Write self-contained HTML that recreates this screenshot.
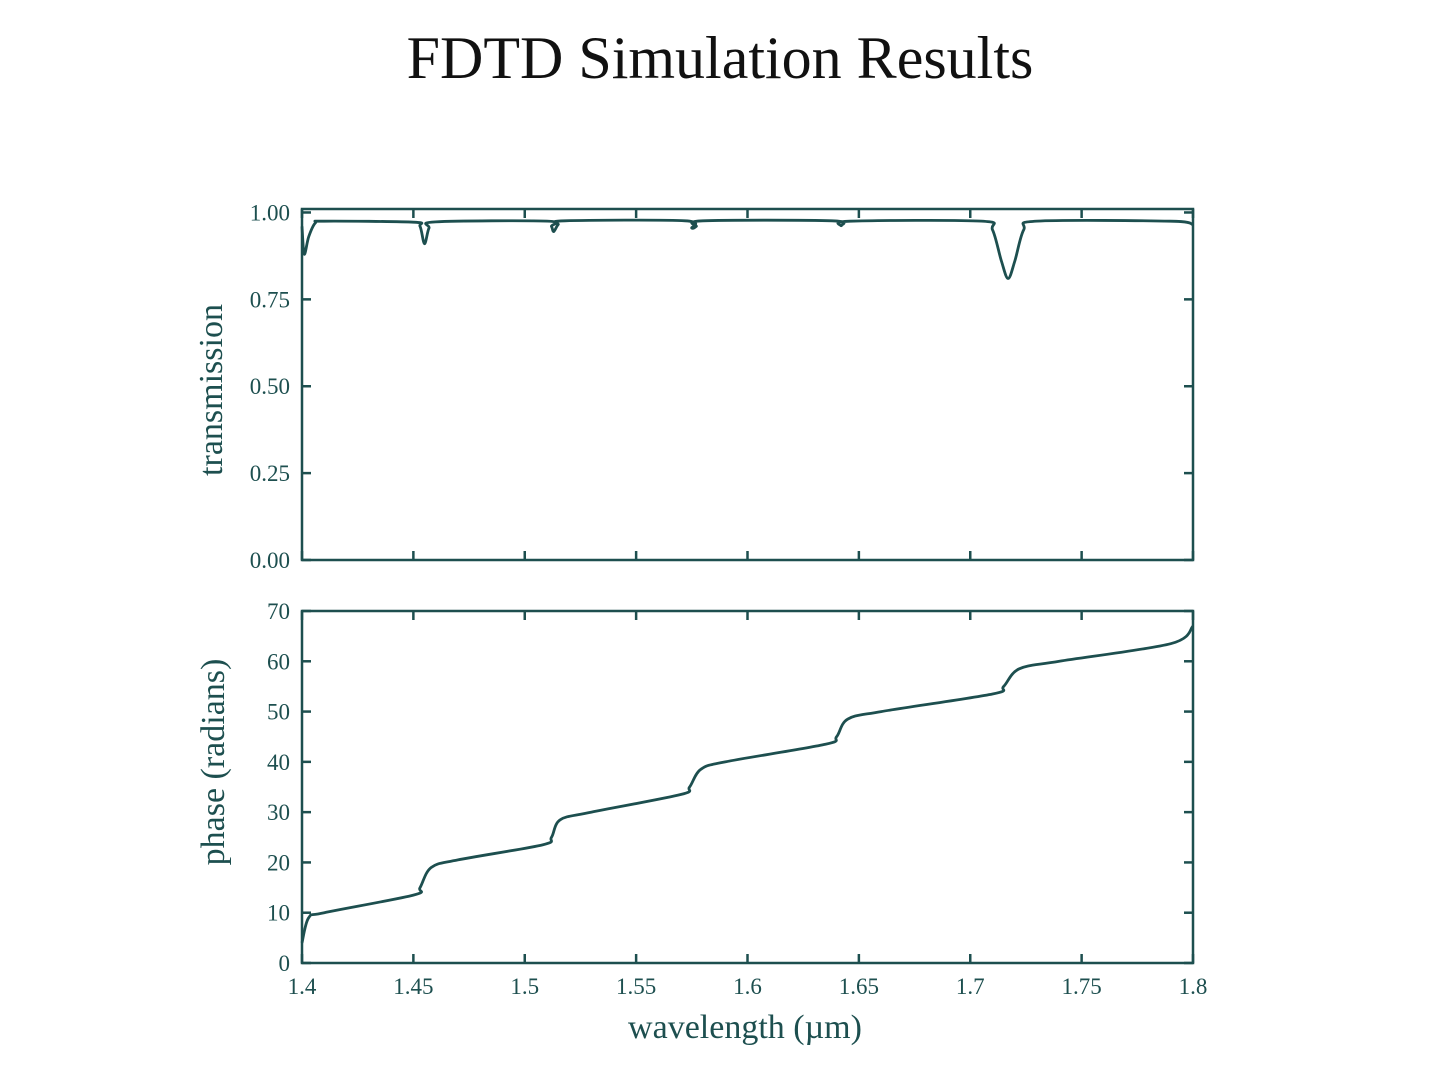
<!DOCTYPE html>
<html><head><meta charset="utf-8"><style>
html,body{margin:0;padding:0;background:#fff;}
svg text{font-family:"Liberation Serif",serif;fill:#1d4f4f;}
</style></head><body>
<svg width="1440" height="1079" viewBox="0 0 1440 1079" xmlns="http://www.w3.org/2000/svg">
<text x="720" y="78" text-anchor="middle" font-size="60" style="fill:#111">FDTD Simulation Results</text>
<g id="top"></g>
<g id="bot"></g>
<text x="745" y="1038" text-anchor="middle" font-size="34">wavelength (µm)</text>
<text transform="translate(222,390) rotate(-90)" text-anchor="middle" font-size="34">transmission</text>
<text transform="translate(224,762) rotate(-90)" text-anchor="middle" font-size="34">phase (radians)</text>
</svg>
<script>
const xTicks=[1.4,1.45,1.5,1.55,1.6,1.65,1.7,1.75,1.8];
const xTickLabels=["1.4","1.45","1.5","1.55","1.6","1.65","1.7","1.75","1.8"];
const tTicks=[0,0.25,0.5,0.75,1.0];
const tTickLabels=["0.00","0.25","0.50","0.75","1.00"];
const pTicks=[0,10,20,30,40,50,60,70];
const pTickLabels=["0","10","20","30","40","50","60","70"];
const transWl=[1.4,1.401,1.403,1.406,1.41,1.45,1.453,1.455,1.457,1.46,1.51,1.512,1.513,1.515,1.518,1.572,1.575,1.577,1.58,1.638,1.642,1.646,1.705,1.71,1.714,1.717,1.72,1.724,1.73,1.79,1.8];
const transVal=[0.96,0.88,0.93,0.97,0.975,0.972,0.96,0.91,0.955,0.973,0.975,0.96,0.945,0.965,0.976,0.976,0.955,0.96,0.976,0.976,0.962,0.975,0.975,0.95,0.86,0.81,0.86,0.95,0.975,0.975,0.965];
const phaseWl=[1.4,1.403,1.41,1.45,1.453,1.458,1.47,1.508,1.512,1.516,1.53,1.57,1.574,1.579,1.59,1.635,1.64,1.645,1.66,1.71,1.715,1.722,1.74,1.79,1.8];
const phaseVal=[4,9,10,13.5,15,19,20.5,23.5,25,28.5,30,33.5,35,38.5,40,43.5,45,48.5,50,53.5,55,58.5,60,63.5,67];
const NS="http://www.w3.org/2000/svg";
const X0=302,X1=1193;
const xs=v=>X0+(v-1.4)/(0.4)*(X1-X0);
function mk(tag,attrs,parent){const e=document.createElementNS(NS,tag);for(const k in attrs)e.setAttribute(k,attrs[k]);parent.appendChild(e);return e;}
function path(xv,yv,xf,yf){let p="";const P=xv.map((x,i)=>[xf(x),yf(yv[i])]);
 p="M"+P[0][0]+","+P[0][1];
 for(let i=0;i<P.length-1;i++){const p0=P[Math.max(0,i-1)],p1=P[i],p2=P[i+1],p3=P[Math.min(P.length-1,i+2)];
 const t=0.16;p+=" C"+(p1[0]+(p2[0]-p0[0])*t)+","+(p1[1]+(p2[1]-p0[1])*t)+" "+(p2[0]-(p3[0]-p1[0])*t)+","+(p2[1]-(p3[1]-p1[1])*t)+" "+p2[0]+","+p2[1];}
 return p;}
function panel(g,top,bottom,ymin,ymax,yt,ytl,xv,yv,showX,nm){
 const ys=v=>bottom-(v-ymin)/(ymax-ymin)*(bottom-top);
 const yTop=ys(ymax);
 const fr=mk("rect",{x:X0,y:top,width:X1-X0,height:bottom-top,fill:"none",stroke:"#1d4f4f","stroke-width":2.5},g);
 
 
 xTicks.forEach((t,i)=>{const x=xs(t);
  const a=mk("line",{x1:x,x2:x,y1:bottom,y2:bottom-9,stroke:"#1d4f4f","stroke-width":2.5},g);
  
  
  mk("line",{x1:x,x2:x,y1:top,y2:top+9,stroke:"#1d4f4f","stroke-width":2.5},g);
  if(showX){const tx=mk("text",{x:x,y:bottom+31,"text-anchor":"middle","font-size":23},g);tx.textContent=xTickLabels[i];
   
   }
 });
 yt.forEach((t,i)=>{const y=ys(t);
  const a=mk("line",{x1:X0,x2:X0+9,y1:y,y2:y,stroke:"#1d4f4f","stroke-width":2.5},g);
  
  
  mk("line",{x1:X1,x2:X1-9,y1:y,y2:y,stroke:"#1d4f4f","stroke-width":2.5},g);
  const tx=mk("text",{x:X0-12,y:y+8,"text-anchor":"end","font-size":23},g);tx.textContent=ytl[i];
  
  
 });
 const ln=mk("path",{d:path(xv,yv,xs,ys),fill:"none",stroke:"#1d4f4f","stroke-width":2.8},g);
 
 
}
panel(document.getElementById("top"),209,560,0,1.01,tTicks,tTickLabels,transWl,transVal,false,"transmission");
panel(document.getElementById("bot"),611,963,0,70,pTicks,pTickLabels,phaseWl,phaseVal,true,"phase");
</script>
</body></html>
